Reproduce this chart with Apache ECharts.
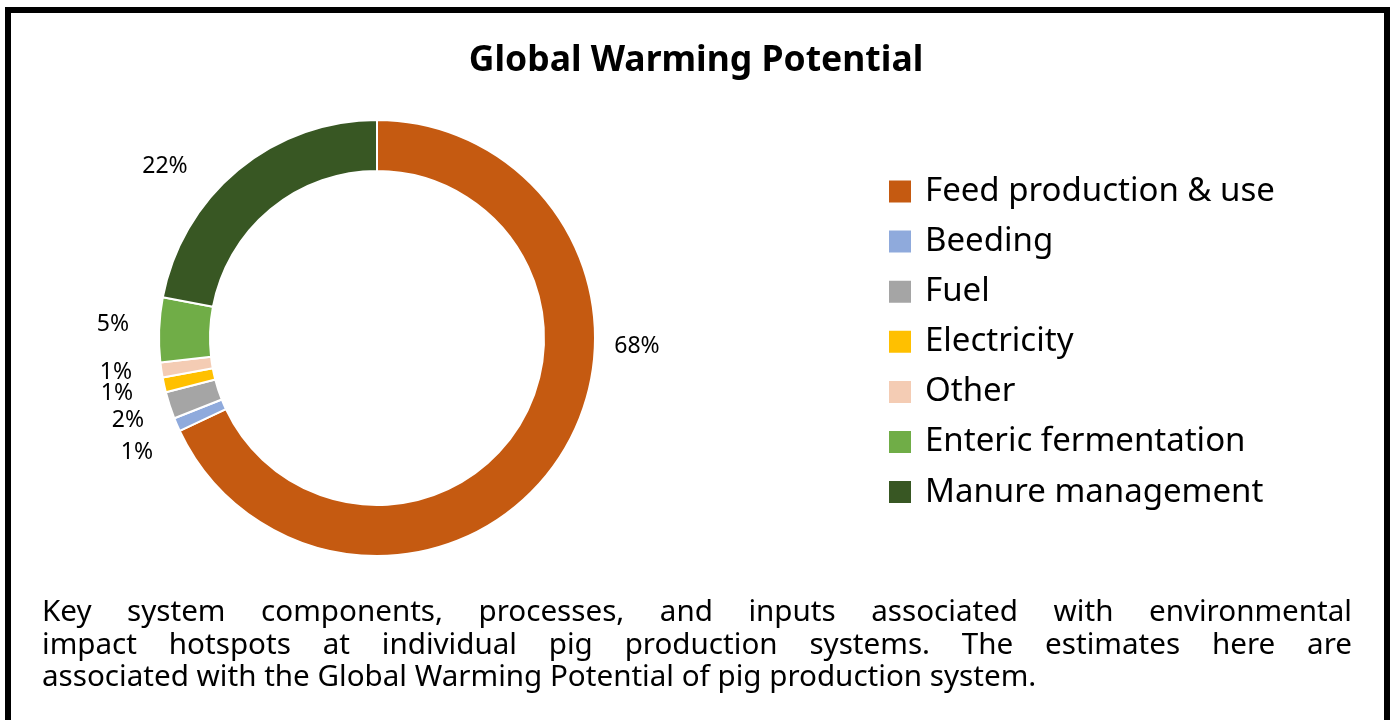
<!DOCTYPE html>
<html>
<head>
<meta charset="utf-8">
<script src="https://cdn.jsdelivr.net/npm/echarts@6/dist/echarts.min.js"></script>
<style>
  html, body { margin: 0; padding: 0; background: #fff; }
  #frame {
    position: absolute; left: 5px; top: 7px; width: 1373px; height: 760px;
    border: 6px solid #000; border-bottom: none;
  }
  #myChart { position: absolute; left: 0; top: 0; width: 1392px; height: 720px; }
  #caption {
    position: absolute; left: 42px; top: 594px; width: 1310px;
    font-family: "Noto Sans", sans-serif; font-size: 29.6px; line-height: 32.5px; color: #000;
  }
  #caption .j { text-align: justify; text-align-last: justify; white-space: nowrap; }
</style>
</head>
<body>
<div id="frame"></div>
<div id="myChart"></div>
<div id="caption">
  <div class="j">Key system components, processes, and inputs associated with environmental</div>
  <div class="j">impact hotspots at individual pig production systems. The estimates here are</div>
  <div>associated with the Global Warming Potential of pig production system.</div>
</div>
<script>
// 数据
const categories = ['Feed production & use', 'Beeding', 'Fuel', 'Electricity', 'Other', 'Enteric fermentation', 'Manure management'];
const shares = [68.0, 1.0, 2.0, 1.1, 1.1, 4.8, 22.0];
const colors = ['#C55A11', '#8FAADC', '#A5A5A5', '#FFC000', '#F4CCB4', '#70AD47', '#385723'];

// label spots as Excel placed them
const labelSpots = [[637, 346], [137, 452], [128, 420], [117, 393], [116, 372], [113, 324], [165, 166]];

let myChart = echarts.init(document.getElementById('myChart'));

let option = {
  backgroundColor: 'transparent',
  color: colors,
  title: {
    text: 'Global Warming Potential',
    left: 'center',
    top: 36,
    textStyle: { fontFamily: 'Noto Sans', fontWeight: 'bold', fontSize: 35.5, color: '#000', lineHeight: 40 }
  },
  legend: {
    orient: 'vertical',
    left: 882,
    top: 170,
    itemWidth: 24,
    itemHeight: 24,
    itemGap: 17.1,
    icon: 'rect',
    textStyle: { fontFamily: 'Noto Sans', fontSize: 33, color: '#000', lineHeight: 24, padding: [0, 0, 0, 8] },
    data: categories
  },
  series: [
    {
      name: 'GWP',
      type: 'pie',
      center: [377, 338],
      radius: [167, 218],
      startAngle: 90,
      clockwise: true,
      avoidLabelOverlap: false,
      itemStyle: { borderColor: '#fff', borderWidth: 2 },
      label: {
        show: true,
        position: 'outside',
        fontFamily: 'Noto Sans',
        fontSize: 23,
        color: '#000',
        formatter: p => Math.round(p.value) + '%'
      },
      labelLine: { show: false },
      labelLayout: p => ({
        x: labelSpots[p.dataIndex][0],
        y: labelSpots[p.dataIndex][1],
        align: 'center',
        verticalAlign: 'middle'
      }),
      emphasis: { disabled: true },
      data: categories.map((c, i) => ({ name: c, value: shares[i] }))
    }
  ]
};

myChart.setOption(option);
</script>
</body>
</html>
